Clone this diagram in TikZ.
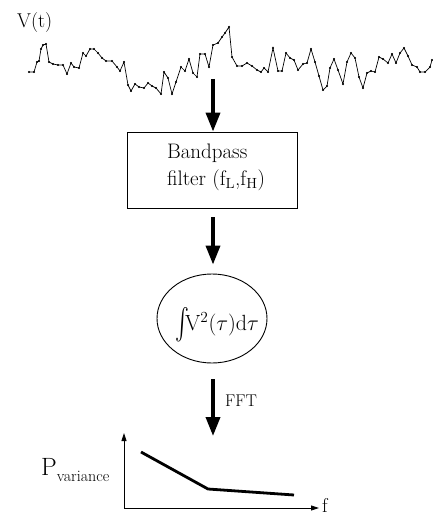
\RequirePackage{fix-cm}
\documentclass[tikz,border=0pt]{standalone}
\usepackage{exscale}
\usepackage{fontspec}
\usetikzlibrary{arrows.meta,shapes.geometric}
\begin{document}
\begin{tikzpicture}[x=1pt,y=-1pt,
  bigarrow/.style={line width=3.6pt,-{Triangle[width=14pt,length=19pt]}},
  axisarrow/.style={line width=0.9pt,-{Triangle[width=5pt,length=8pt]}},
  lbl/.style={inner sep=0pt,font=\fontsize{20}{22}\selectfont},
  filterbox/.style={draw,line width=0.9pt,minimum width=170pt,minimum height=76pt,inner sep=0pt},
  intcircle/.style={draw,ellipse,line width=0.9pt,minimum width=110pt,minimum height=89pt,inner sep=0pt}]
\useasboundingbox (0,0) rectangle (432,516);

% signal trace V(t)
\node[lbl,anchor=base west] (vt) at (17,28) {V(t)};
\draw[line width=0.7pt,mark=*,mark size=0.7pt] plot coordinates {
 (29,72) (34,72) (37,62) (39,61) (41,49) (43,45) (46,44) (49,62) (53,64)
 (58,65) (63,65) (67,74) (71,63) (74,67) (79,68) (83,53) (86,56) (90,49)
 (94,49) (98,53) (102,58) (106,61) (112,61) (117,67) (120,71) (124,62)
 (128,85) (131,91) (135,84) (139,87) (144,88) (148,83) (152,86) (156,88)
 (161,94) (164,72) (168,78) (172,94) (176,82) (181,67) (185,71) (189,59)
 (193,73) (197,77) (200,54) (205,54) (209,67) (213,45) (218,43) (222,37)
 (225,33) (229,27) (232,57) (237,66) (242,66) (247,63) (252,66) (257,70)
 (261,72) (264,68) (268,72) (273,48) (278,71) (282,71) (286,53) (290,58)
 (294,60) (298,70) (303,64) (307,63) (311,49) (315,62) (319,76) (323,90)
 (327,86) (330,68) (334,59) (338,70) (343,84) (347,62) (351,53) (355,58)
 (359,77) (363,88) (367,73) (371,71) (375,72) (379,57) (383,59) (388,63)
 (392,54) (396,63) (400,53) (404,48) (408,56) (412,65) (417,67) (420,72)
 (425,72) (430,67) (432,60)};
\coordinate (sig) at (213,79);

% processing chain
\node[filterbox] (filt) at (212,170) {};
\node[lbl,align=left,font=\fontsize{21}{27}\selectfont] (filtlbl) at (216,167)
  {Bandpass\\filter (f\textsubscript{L},f\textsubscript{H})};
\node[intcircle] (integ) at (212,318.5) {};
\node[lbl,anchor=base,font=\fontsize{22}{24}\selectfont] (intlbl) at (217,330)
  {$\vcenter{\hbox{\scalebox{1}[1.5]{$\int$}}}\!\mathrm{V}^2(\tau)\mathrm{d}\tau$};
\coordinate (spec) at (213,436);

\draw[bigarrow] (sig) -- (filt.north -| sig);
\draw[bigarrow,shorten <=9pt,shorten >=9pt] (filt.south -| sig) -- (integ.north -| sig);
\draw[bigarrow,shorten <=16pt] (integ.south -| sig) -- (spec);
\node[lbl,anchor=base west,font=\fontsize{17}{19}\selectfont] (fft) at (225,406) {FFT};

% variance spectrum
\coordinate (orig) at (124,508);
\coordinate (ytop) at (124,433);
\coordinate (xend) at (319,508);
\draw[axisarrow] (orig) -- (ytop);
\draw[axisarrow] (orig) -- (xend);
\node[lbl,anchor=base west] (fl) at (322,512) {f};
\node[lbl,anchor=base west] (pv) at (41,475)
  {{\fontsize{25}{26}\selectfont P}\raisebox{-6pt}{\fontsize{16}{18}\selectfont variance}};
\coordinate (c1) at (141,452);
\coordinate (c2) at (208,489);
\coordinate (c3) at (294,495);
\draw[line width=2.8pt] (c1) -- (c2) -- (c3);
\end{tikzpicture}
\end{document}
